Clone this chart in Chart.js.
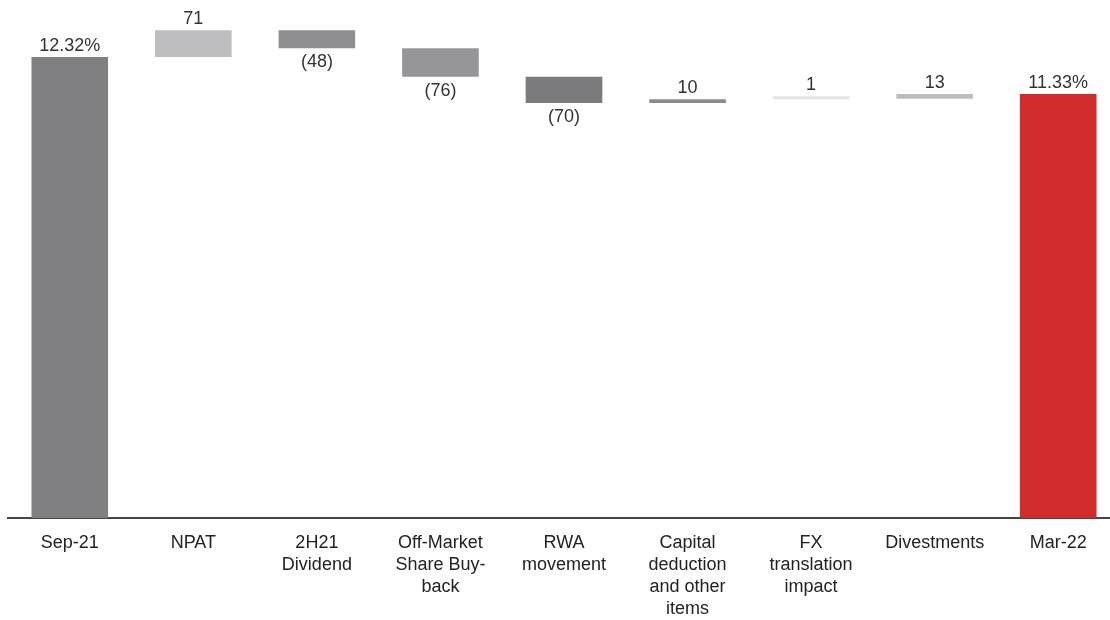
<!DOCTYPE html>
<html>
<head>
<meta charset="utf-8">
<script src="https://cdn.jsdelivr.net/npm/chart.js@4.4.1/dist/chart.umd.min.js"></script>
<style>
    html, body { margin: 0; padding: 0; background: #fff; overflow: hidden; }
    #wrap { position: relative; width: 1120px; height: 620px; }
</style>
</head>
<body>
<div id="wrap"><canvas id="grafico"></canvas></div>
<script>
// categorias e valores (bps, exceto início e fim em %)
const categorias = [
    'Sep-21', 'NPAT', ['2H21', 'Dividend'], ['Off-Market', 'Share Buy-', 'back'],
    ['RWA', 'movement'], ['Capital', 'deduction', 'and other', 'items'],
    ['FX', 'translation', 'impact'], 'Divestments', 'Mar-22'
];
const inicioPct = 12.32;
const fimPct = 11.33;
const variacoes = [71, -48, -76, -70, 10, 1, 13];
const cores = ['#808083', '#bebec0', '#8f8f91', '#969698', '#7b7b7d', '#8b8b8d', '#e4e4e4', '#bdbdbd', '#d12b2b'];

// monta barras flutuantes
const dados = [];
const rotulos = [];
let acumulado = Math.round(inicioPct * 100);
dados.push([0, acumulado]);
rotulos.push(inicioPct.toFixed(2) + '%');
variacoes.forEach(v => {
    dados.push([acumulado, acumulado + v]);
    rotulos.push(v < 0 ? '(' + Math.abs(v) + ')' : String(v));
    acumulado += v;
});
dados.push([0, Math.round(fimPct * 100)]);
rotulos.push(fimPct.toFixed(2) + '%');

const fonte = '"Liberation Sans", Arial, sans-serif';

const pluginRotulos = {
    id: 'rotulos',
    afterDatasetsDraw(chart) {
        const ctx = chart.ctx;
        const meta = chart.getDatasetMeta(0);
        ctx.save();
        ctx.font = '18px ' + fonte;
        ctx.fillStyle = '#333';
        ctx.textAlign = 'center';
        meta.data.forEach((bar, i) => {
            const [a, b] = dados[i];
            const topo = Math.min(bar.y, bar.base);
            const fundo = Math.max(bar.y, bar.base);
            if (b < a) {
                ctx.textBaseline = 'top';
                ctx.fillText(rotulos[i], bar.x, fundo + 5);
            } else {
                ctx.textBaseline = 'bottom';
                ctx.fillText(rotulos[i], bar.x, topo - 2);
            }
        });
        ctx.restore();
    }
};

document.addEventListener('DOMContentLoaded', function () {
    const ctx = document.getElementById('grafico').getContext('2d');
    new Chart(ctx, {
        type: 'bar',
        data: {
            labels: categorias,
            datasets: [{
                data: dados,
                backgroundColor: cores,
                borderWidth: 0,
                categoryPercentage: 1,
                barPercentage: 0.62,
                minBarLength: 3
            }]
        },
        options: {
            responsive: true,
            maintainAspectRatio: false,
            animation: false,
            layout: { padding: { left: 8, right: 0, top: 0, bottom: 0 } },
            plugins: {
                legend: { display: false },
                tooltip: { enabled: false }
            },
            scales: {
                x: {
                    grid: { display: false, drawTicks: false },
                    border: { color: '#444', width: 2 },
                    ticks: {
                        color: '#222',
                        padding: 14,
                        maxRotation: 0,
                        autoSkip: false,
                        font: { family: fonte, size: 18, lineHeight: 1.22 }
                    },
                    afterFit: axis => { axis.height = 102; }
                },
                y: {
                    display: false,
                    min: 0,
                    max: 1384
                }
            }
        },
        plugins: [pluginRotulos]
    });
});
</script>
</body>
</html>
